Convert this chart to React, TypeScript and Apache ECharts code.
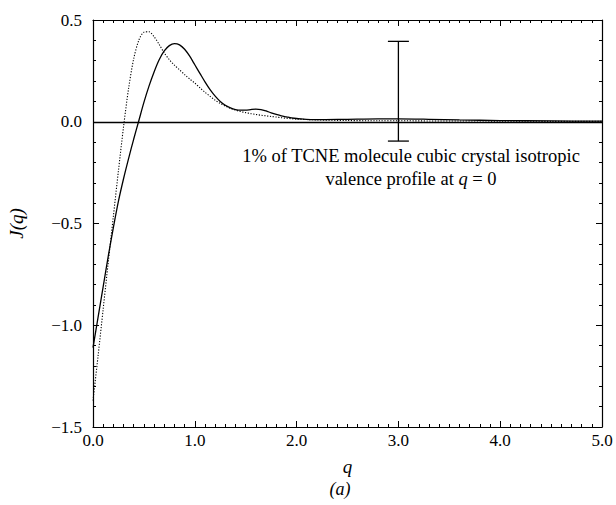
import React, { useEffect, useRef } from "react";
import * as echarts from "echarts";

const qSolid = [0, 0.05, 0.1, 0.15, 0.2, 0.25, 0.3, 0.35, 0.4, 0.45, 0.5, 0.55, 0.6, 0.65, 0.7, 0.75, 0.8, 0.85, 0.9, 0.95, 1.0, 1.05, 1.1, 1.15, 1.2, 1.25, 1.3, 1.35, 1.4, 1.45, 1.5, 1.55, 1.6, 1.65, 1.7, 1.75, 1.8, 1.85, 1.9, 1.95, 2.0, 2.2, 2.5, 2.8, 3.0, 3.3, 3.6, 4.0, 4.5, 5.0];
const jSolid = [-1.11, -0.96, -0.81, -0.66, -0.52, -0.39, -0.28, -0.18, -0.085, 0.005, 0.095, 0.175, 0.245, 0.305, 0.348, 0.374, 0.384, 0.378, 0.356, 0.322, 0.28, 0.238, 0.196, 0.158, 0.126, 0.1, 0.081, 0.068, 0.06, 0.057, 0.057, 0.06, 0.062, 0.06, 0.053, 0.044, 0.036, 0.029, 0.024, 0.019, 0.016, 0.01, 0.012, 0.014, 0.014, 0.012, 0.009, 0.006, 0.004, 0.003];

const qDotted = [0, 0.05, 0.1, 0.15, 0.2, 0.25, 0.3, 0.35, 0.4, 0.45, 0.5, 0.55, 0.6, 0.65, 0.7, 0.75, 0.8, 0.85, 0.9, 0.95, 1.0, 1.05, 1.1, 1.15, 1.2, 1.25, 1.3, 1.35, 1.4, 1.45, 1.5, 1.55, 1.6, 1.65, 1.7, 1.75, 1.8, 1.85, 1.9, 1.95, 2.0, 2.2, 2.5, 2.8, 3.0, 3.3, 3.6, 4.0, 4.5, 5.0];
const jDotted = [-1.37, -1.15, -0.92, -0.69, -0.465, -0.24, -0.025, 0.165, 0.31, 0.4, 0.44, 0.442, 0.418, 0.38, 0.338, 0.305, 0.278, 0.255, 0.232, 0.21, 0.19, 0.167, 0.145, 0.125, 0.106, 0.09, 0.077, 0.066, 0.057, 0.05, 0.045, 0.04, 0.036, 0.032, 0.029, 0.026, 0.023, 0.02, 0.017, 0.015, 0.013, 0.009, 0.006, 0.005, 0.005, 0.004, 0.004, 0.003, 0.002, 0.002];

const errQ = [3.0];
const errLow = [-0.095];
const errHigh = [0.395];

const annotationLine1 = "1% of TCNE molecule cubic crystal isotropic";
const annotationLine2 = "valence profile at {i|q} = 0";

const FONT = "Liberation Serif";

function fmt(v: number) {
  if (Math.abs(v) < 1e-9) return "0.0";
  return v < 0 ? "\u2212" + Math.abs(v).toFixed(1) : v.toFixed(1);
}

export default function App() {
  const ref = useRef<HTMLDivElement>(null);
  useEffect(() => {
    if (!ref.current) return;
    const chart = echarts.init(ref.current, null, { renderer: "svg" });
    const axisLine = { show: true, onZero: false, lineStyle: { color: "#000", width: 1.2 } };
    const baseX = {
      type: "value" as const,
      min: 0,
      max: 5,
      interval: 1,
      axisLine,
      splitLine: { show: false },
      axisTick: { show: true, inside: true, length: 6, lineStyle: { color: "#000", width: 1 } },
      minorTick: { show: true, splitNumber: 10, length: 3, lineStyle: { color: "#000", width: 1 } },
    };
    const baseY = {
      type: "value" as const,
      min: -1.5,
      max: 0.5,
      interval: 0.5,
      axisLine,
      splitLine: { show: false },
      axisTick: { show: true, inside: true, length: 6, lineStyle: { color: "#000", width: 1 } },
      minorTick: { show: true, splitNumber: 5, length: 3, lineStyle: { color: "#000", width: 1 } },
    };
    const textBase = { fontFamily: FONT, fontSize: 18.5, fill: "#000", align: "center", verticalAlign: "middle" };
    chart.setOption({
      animation: false,
      backgroundColor: "#fff",
      grid: { left: 93, right: 14, top: 20, bottom: 78, containLabel: false, outerBoundsMode: "none" },
      xAxis: [
        {
          ...baseX,
          position: "bottom",
          name: "q",
          nameLocation: "middle",
          nameGap: 30,
          nameTextStyle: { fontFamily: FONT, fontSize: 19, fontStyle: "italic", color: "#000" },
          axisLabel: { formatter: fmt, fontFamily: FONT, fontSize: 17, color: "#000", margin: 5 },
        },
        { ...baseX, position: "top", axisLabel: { show: false } },
      ],
      yAxis: [
        {
          ...baseY,
          position: "left",
          name: "J(q)",
          nameLocation: "middle",
          nameGap: 67,
          nameRotate: 90,
          nameTextStyle: { fontFamily: FONT, fontSize: 19, fontStyle: "italic", color: "#000" },
          axisLabel: { formatter: fmt, fontFamily: FONT, fontSize: 17, color: "#000", margin: 11 },
        },
        { ...baseY, position: "right", axisLabel: { show: false } },
      ],
      series: [
        {
          type: "line",
          data: qSolid.map((q, i) => [q, jSolid[i]]),
          showSymbol: false,
          smooth: 0.3,
          lineStyle: { color: "#000", width: 1.3, type: "solid" },
          markLine: {
            silent: true,
            symbol: "none",
            label: { show: false },
            lineStyle: { color: "#000", width: 1.3, type: "solid" },
            data: [{ yAxis: 0 }],
          },
          z: 3,
        },
        {
          type: "line",
          data: qDotted.map((q, i) => [q, jDotted[i]]),
          showSymbol: false,
          smooth: 0.3,
          lineStyle: { color: "#000", width: 1.1, type: [1.2, 1.6] },
          z: 3,
        },
        {
          type: "custom",
          data: errQ.map((q, i) => [q, errLow[i], errHigh[i]]),
          renderItem: (params: any, api: any) => {
            const lo = api.coord([api.value(0), api.value(1)]);
            const hi = api.coord([api.value(0), api.value(2)]);
            const hw = 10.5;
            const style = { stroke: "#000", lineWidth: 1.3 };
            return {
              type: "group",
              children: [
                { type: "line", shape: { x1: lo[0], y1: lo[1], x2: hi[0], y2: hi[1] }, style },
                { type: "line", shape: { x1: lo[0] - hw, y1: lo[1], x2: lo[0] + hw, y2: lo[1] }, style },
                { type: "line", shape: { x1: hi[0] - hw, y1: hi[1], x2: hi[0] + hw, y2: hi[1] }, style },
              ],
            };
          },
          z: 4,
        },
      ],
      graphic: [
        {
          type: "text",
          x: 411,
          y: 156,
          style: { ...textBase, text: annotationLine1 },
        },
        {
          type: "text",
          x: 411,
          y: 179,
          style: {
            ...textBase,
            text: annotationLine2,
            rich: { i: { fontStyle: "italic", fontFamily: FONT, fontSize: 18.5 } },
          },
        },
        {
          type: "text",
          x: 340,
          y: 489,
          style: { ...textBase, fontSize: 18, text: "(a)", fontStyle: "italic" },
        },
      ],
    });
    return () => chart.dispose();
  }, []);
  return <div ref={ref} style={{ position: "fixed", left: 0, top: 0, width: 616, height: 505 }} />;
}
